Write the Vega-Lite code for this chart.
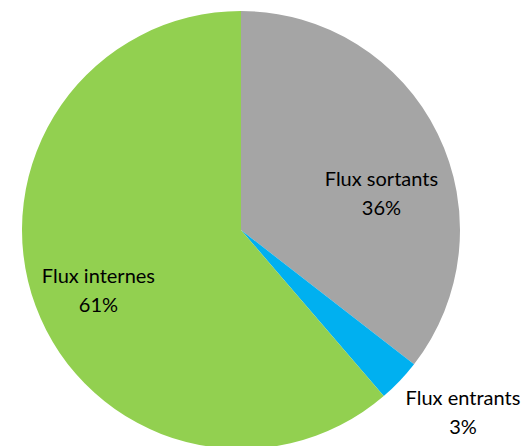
{
  "$schema": "https://vega.github.io/schema/vega-lite/v6.json",
  "width": 482,
  "height": 460,
  "padding": {"left": 0, "top": 0, "right": 47, "bottom": 0},
  "autosize": {"type": "none"},
  "background": "white",
  "view": {"stroke": null},
  "data": {"values": [
    {"cat": "Flux sortants", "value": 35.5, "order": 1, "pct": "36%"},
    {"cat": "Flux entrants", "value": 3.2, "order": 2, "pct": "3%"},
    {"cat": "Flux internes", "value": 61.3, "order": 3, "pct": "61%"}
  ]},
  "transform": [
    {"stack": "value", "groupby": [], "sort": [{"field": "order", "order": "ascending"}], "as": ["v0", "v1"]},
    {"calculate": "[datum.cat, datum.pct]", "as": "lbl"}
  ],
  "layer": [
    {
      "mark": {"type": "arc", "radius": 219},
      "encoding": {
        "theta": {"field": "v0", "type": "quantitative", "scale": {"domain": [0, 100]}},
        "theta2": {"field": "v1"},
        "color": {"field": "cat", "type": "nominal", "legend": null,
          "scale": {"domain": ["Flux sortants", "Flux entrants", "Flux internes"], "range": ["#A5A5A5", "#00B0F0", "#92D050"]}}
      }
    },
    {
      "transform": [{"filter": "datum.cat === 'Flux sortants'"}],
      "mark": {"type": "text", "radius": 145, "thetaOffset": 1.319, "dy": -14, "font": "Lato", "fontSize": 20, "lineHeight": 29, "color": "#000000", "align": "center", "baseline": "middle"},
      "encoding": {
        "theta": {"field": "v0", "type": "quantitative", "scale": {"domain": [0, 100]}},
        "text": {"field": "lbl"}
      }
    },
    {
      "transform": [{"filter": "datum.cat === 'Flux entrants'"}],
      "mark": {"type": "text", "radius": 288, "thetaOffset": 0.031, "dy": -14, "font": "Lato", "fontSize": 20, "lineHeight": 29, "color": "#000000", "align": "center", "baseline": "middle"},
      "encoding": {
        "theta": {"field": "v0", "type": "quantitative", "scale": {"domain": [0, 100]}},
        "text": {"field": "lbl"}
      }
    },
    {
      "transform": [{"filter": "datum.cat === 'Flux internes'"}],
      "mark": {"type": "text", "radius": 155, "thetaOffset": 1.878, "dy": -14, "font": "Lato", "fontSize": 20, "lineHeight": 29, "color": "#000000", "align": "center", "baseline": "middle"},
      "encoding": {
        "theta": {"field": "v0", "type": "quantitative", "scale": {"domain": [0, 100]}},
        "text": {"field": "lbl"}
      }
    }
  ]
}
